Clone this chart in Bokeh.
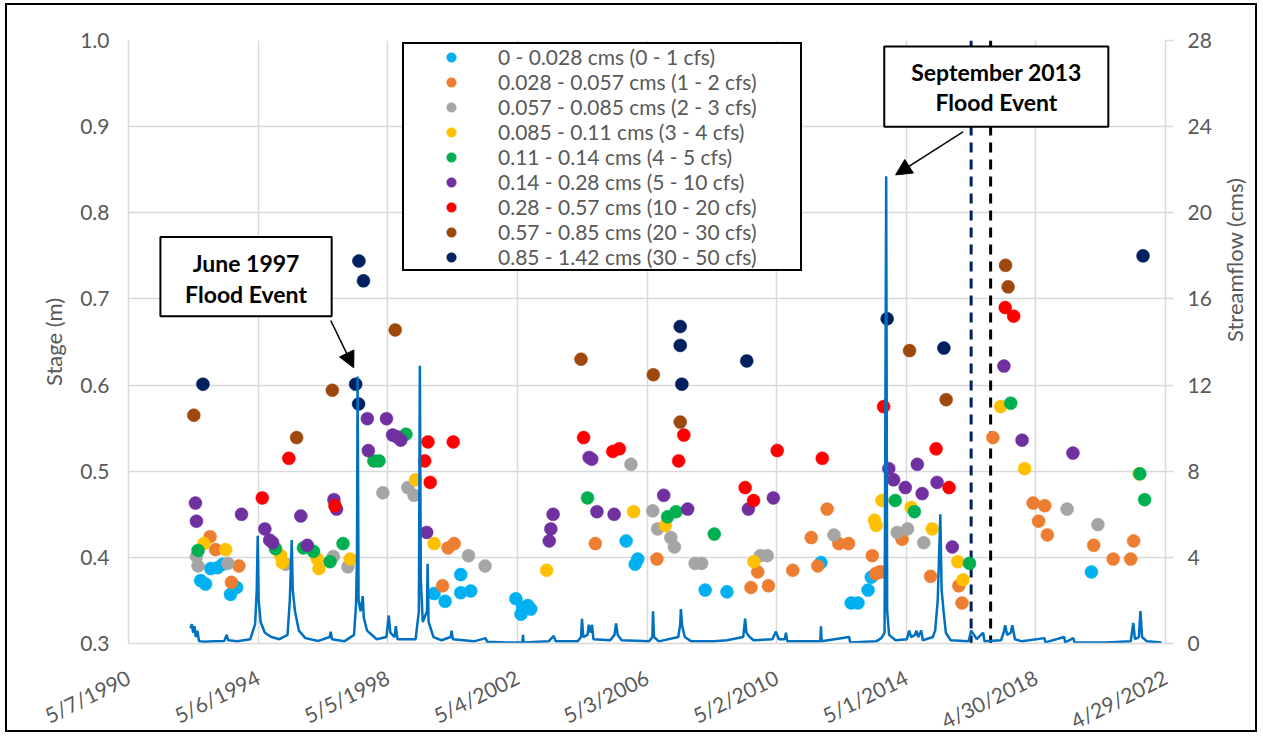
import numpy as np
import pandas as pd
from bokeh.plotting import figure
from bokeh.models import (Range1d, LinearAxis, FixedTicker, CustomJSTickFormatter, Legend, LegendItem,
                          Label, BoxAnnotation, Arrow, NormalHead, Span, PrintfTickFormatter)
from bokeh.embed import file_html
from bokeh.resources import INLINE

# ---------------- data ----------------
categories = ["0 - 0.028 cms (0 - 1 cfs)", "0.028 - 0.057 cms (1 - 2 cfs)", "0.057 - 0.085 cms (2 - 3 cfs)",
              "0.085 - 0.11 cms (3 - 4 cfs)", "0.11 - 0.14 cms (4 - 5 cfs)", "0.14 - 0.28 cms (5 - 10 cfs)",
              "0.28 - 0.57 cms (10 - 20 cfs)", "0.57 - 0.85 cms (20 - 30 cfs)", "0.85 - 1.42 cms (30 - 50 cfs)"]
colors = ["#00B0F0", "#ED7D31", "#A5A5A5", "#FFC000", "#00B050", "#7030A0", "#FF0000", "#9E480E", "#002060"]

# decimal year, stage (m)
cyan_x = [1992.57, 1992.72, 1992.88, 1993.09, 1993.25, 1993.49, 1993.68, 1999.77, 2000.11, 2000.59, 2000.59, 2000.90,
          2002.29, 2002.50, 2002.75, 2002.45, 2002.66, 2005.69, 2006.05, 2005.97, 2008.13, 2008.80, 2011.70, 2013.15,
          2013.25, 2012.63, 2012.84, 2020.04]
cyan_y = [0.373, 0.369, 0.387, 0.388, 0.392, 0.357, 0.365, 0.358, 0.349, 0.380, 0.359, 0.361, 0.352, 0.342, 0.340,
          0.334, 0.344, 0.419, 0.398, 0.392, 0.362, 0.360, 0.394, 0.362, 0.377, 0.347, 0.347, 0.383]
orange_x = [1992.86, 1993.03, 1993.52, 1993.75, 2000.03, 2000.20, 2000.39, 2004.74, 2006.64, 2009.54, 2009.75, 2010.08,
            2010.83, 2011.40, 2011.60, 2011.89, 2012.25, 2012.55, 2013.28, 2013.38, 2013.50, 2013.56, 2014.20, 2015.08,
            2015.95, 2016.05, 2017.00, 2018.24, 2018.60, 2018.41, 2018.68, 2020.11, 2020.71, 2021.25, 2021.34]
orange_y = [0.424, 0.409, 0.371, 0.390, 0.367, 0.411, 0.416, 0.416, 0.398, 0.365, 0.383, 0.367, 0.385, 0.423, 0.390,
            0.456, 0.416, 0.416, 0.402, 0.381, 0.383, 0.383, 0.421, 0.378, 0.367, 0.347, 0.539, 0.463, 0.460, 0.442,
            0.426, 0.414, 0.398, 0.398, 0.419]
grey_x = [1992.44, 1992.49, 1993.41, 1995.19, 1996.66, 1997.11, 1998.19, 1998.96, 1999.15, 2000.83, 2001.34, 2005.84,
          2006.51, 2006.66, 2007.07, 2007.18, 2007.82, 2008.02, 2009.83, 2010.04, 2012.10, 2014.05, 2014.37, 2014.87,
          2019.29, 2020.24]
grey_y = [0.401, 0.390, 0.393, 0.392, 0.401, 0.389, 0.475, 0.481, 0.472, 0.402, 0.390, 0.508, 0.454, 0.433, 0.423,
          0.412, 0.393, 0.393, 0.402, 0.402, 0.426, 0.429, 0.433, 0.417, 0.456, 0.438]
yellow_x = [1992.67, 1993.34, 1995.04, 1995.09, 1996.17, 1996.22, 1997.18, 1999.20, 1999.77, 2003.24, 2005.92, 2006.90,
            2009.63, 2013.35, 2013.40, 2013.58, 2014.48, 2015.13, 2015.92, 2016.08, 2017.24, 2017.98, 2021.51]
yellow_y = [0.416, 0.409, 0.402, 0.394, 0.398, 0.387, 0.398, 0.490, 0.416, 0.385, 0.453, 0.437, 0.395, 0.443, 0.437,
            0.466, 0.458, 0.433, 0.395, 0.374, 0.575, 0.503, 0.497]
green_x = [1992.49, 1994.88, 1995.74, 1996.05, 1996.56, 1996.96, 1997.91, 1998.07, 1998.90, 2004.50, 2006.97, 2007.23,
           2008.41, 2013.99, 2014.58, 2016.28, 2017.55, 2021.53, 2021.68]
green_y = [0.408, 0.410, 0.411, 0.407, 0.395, 0.416, 0.512, 0.512, 0.543, 0.469, 0.447, 0.453, 0.427, 0.466, 0.453,
           0.393, 0.579, 0.497, 0.467]
purple_x = [1992.41, 1992.44, 1993.83, 1994.55, 1994.70, 1994.79, 1995.66, 1995.86, 1996.68, 1996.76, 1997.71, 1998.30,
            1997.74, 1998.49, 1998.62, 1998.74, 1999.54, 2003.44, 2003.37, 2003.32, 2004.55, 2004.63, 2004.79, 2005.32,
            2006.85, 2007.59, 2009.46, 2010.23, 2013.79, 2013.94, 2014.30, 2014.67, 2014.82, 2015.28, 2015.75, 2017.34,
            2017.90, 2019.47]
purple_y = [0.463, 0.442, 0.450, 0.433, 0.420, 0.417, 0.448, 0.414, 0.467, 0.456, 0.561, 0.561, 0.524, 0.542, 0.540,
            0.536, 0.429, 0.450, 0.433, 0.419, 0.516, 0.514, 0.453, 0.450, 0.472, 0.456, 0.456, 0.469, 0.503, 0.490,
            0.481, 0.508, 0.474, 0.487, 0.412, 0.622, 0.536, 0.521]
red_x = [1994.47, 1995.29, 1996.71, 1999.58, 2000.36, 1999.48, 1999.65, 2004.38, 2005.28, 2005.48, 2007.47, 2007.31,
         2009.36, 2009.62, 2010.35, 2011.74, 2013.63, 2015.25, 2015.65, 2017.38, 2017.64]
red_y = [0.469, 0.515, 0.460, 0.534, 0.534, 0.512, 0.487, 0.539, 0.523, 0.526, 0.542, 0.512, 0.481, 0.466, 0.524,
         0.515, 0.575, 0.526, 0.481, 0.690, 0.680]
brown_x = [1992.36, 1995.53, 1996.63, 1998.57, 2004.30, 2006.53, 2007.36, 2014.43, 2015.56, 2017.39, 2017.47]
brown_y = [0.565, 0.539, 0.594, 0.664, 0.630, 0.612, 0.557, 0.640, 0.583, 0.739, 0.714]
navy_x = [1992.64, 1997.45, 1997.59, 1997.35, 1997.44, 2007.36, 2007.36, 2007.41, 2009.41, 2013.74, 2015.49, 2021.63]
navy_y = [0.601, 0.744, 0.721, 0.601, 0.578, 0.668, 0.646, 0.601, 0.628, 0.677, 0.643, 0.750]

series_x = [cyan_x, orange_x, grey_x, yellow_x, green_x, purple_x, red_x, brown_x, navy_x]
series_y = [cyan_y, orange_y, grey_y, yellow_y, green_y, purple_y, red_y, brown_y, navy_y]

# streamflow hydrograph (decimal year, cms)
flow_t = [1992.26, 1992.30, 1992.34, 1992.38, 1992.42, 1992.47, 1992.52, 1992.70, 1993.00, 1993.30, 1993.37, 1993.42,
          1993.70, 1994.10, 1994.25, 1994.30, 1994.33, 1994.36, 1994.42, 1994.55, 1994.75, 1995.00, 1995.25, 1995.32,
          1995.38, 1995.41, 1995.48, 1995.60, 1995.80, 1996.20, 1996.55, 1996.58, 1996.62, 1997.00, 1997.30, 1997.36,
          1997.39, 1997.41, 1997.44, 1997.50, 1997.57, 1997.60, 1997.70, 1998.00, 1998.30, 1998.37, 1998.42, 1998.55,
          1998.59, 1998.64, 1999.20, 1999.30, 1999.33, 1999.36, 1999.42, 1999.55, 1999.57, 1999.60, 1999.75, 2000.00,
          2000.28, 2000.31, 2000.35, 2001.00, 2001.36, 2001.40, 2002.00, 2002.49, 2002.51, 2002.53, 2003.30, 2003.46,
          2003.52, 2004.20, 2004.30, 2004.33, 2004.37, 2004.50, 2004.54, 2004.60, 2004.64, 2004.68, 2005.20, 2005.33,
          2005.38, 2005.43, 2005.55, 2006.40, 2006.50, 2006.52, 2006.55, 2006.70, 2007.30, 2007.36, 2007.38, 2007.42,
          2007.50, 2007.70, 2008.40, 2008.80, 2009.30, 2009.36, 2009.40, 2009.50, 2009.62, 2010.20, 2010.31, 2010.40,
          2010.58, 2010.62, 2010.66, 2011.20, 2011.68, 2011.70, 2011.72, 2012.57, 2012.60, 2013.40, 2013.56, 2013.66,
          2013.71, 2013.74, 2013.80, 2014.00, 2014.35, 2014.42, 2014.48, 2014.60, 2014.64, 2014.70, 2014.79, 2014.84,
          2015.15, 2015.22, 2015.30, 2015.38, 2015.42, 2015.48, 2015.55, 2015.70, 2016.25, 2016.30, 2016.33, 2016.42,
          2016.50, 2016.70, 2016.74, 2017.25, 2017.33, 2017.38, 2017.44, 2017.55, 2017.60, 2017.68, 2017.90, 2018.59,
          2018.62, 2019.20, 2019.23, 2019.48, 2019.52, 2020.50, 2021.25, 2021.33, 2021.38, 2021.50, 2021.55, 2021.60,
          2021.75, 2022.20]
flow_q = [0.7, 0.9, 0.5, 0.8, 0.3, 0.6, 0.1, 0.08, 0.1, 0.12, 0.4, 0.15,
          0.1, 0.2, 0.9, 2.5, 5.0, 2.0, 1.0, 0.5, 0.3, 0.2, 0.4, 2.0,
          4.8, 2.5, 1.5, 0.6, 0.25, 0.12, 0.3, 0.55, 0.2, 0.1, 0.4, 1.8,
          4.0, 12.4, 2.0, 1.5, 2.2, 1.2, 0.6, 0.2, 0.3, 1.3, 0.5, 0.3,
          0.8, 0.2, 0.2, 1.5, 12.9, 3.0, 1.0, 1.5, 3.7, 1.0, 0.3, 0.15,
          0.3, 0.6, 0.2, 0.1, 0.25, 0.08, 0.05, 0.05, 0.4, 0.05, 0.1, 0.35,
          0.1, 0.1, 0.3, 1.15, 0.3, 0.4, 0.87, 0.5, 0.87, 0.2, 0.15, 0.4,
          0.93, 0.4, 0.15, 0.1, 0.3, 1.5, 0.3, 0.1, 0.3, 0.9, 1.6, 0.8,
          0.3, 0.1, 0.1, 0.15, 0.3, 1.15, 0.5, 0.3, 0.15, 0.2, 0.55, 0.2,
          0.2, 0.5, 0.1, 0.1, 0.1, 0.8, 0.1, 0.3, 0.05, 0.1, 0.25, 0.5,
          21.7, 1.5, 0.4, 0.15, 0.2, 0.6, 0.3, 0.4, 0.6, 0.3, 0.6, 0.15,
          0.3, 0.6, 2.0, 6.0, 2.5, 1.5, 0.5, 0.15, 0.1, 0.4, 0.6, 0.4,
          0.2, 0.5, 0.1, 0.15, 0.5, 0.85, 0.4, 0.5, 0.85, 0.2, 0.1, 0.25,
          0.05, 0.3, 0.05, 0.25, 0.05, 0.05, 0.1, 0.95, 0.2, 0.3, 1.5, 0.3,
          0.1, 0.05]

event_lines = [2016.33, 2016.93]
event_colors = ["#002060", "#000000"]

tick_dates = ["1990-05-07", "1994-05-06", "1998-05-05", "2002-05-04", "2006-05-03",
              "2010-05-02", "2014-05-01", "2018-04-30", "2022-04-29"]
stage_ticks = [0.3, 0.4, 0.5, 0.6, 0.7, 0.8, 0.9, 1.0]
flow_ticks = [0, 4, 8, 12, 16, 20, 24, 28]


def dec_to_ms(years):
    out = []
    for y in years:
        Y = int(np.floor(y))
        f = y - Y
        s = pd.Timestamp(Y, 1, 1)
        e = pd.Timestamp(Y + 1, 1, 1)
        out.append((s + (e - s) * f).value / 1e6)
    return out


def date_ms(s):
    return pd.Timestamp(s).value / 1e6


tick_ms = [date_ms(d) for d in tick_dates]

FONT = "Lato"
GREY = "#595959"
GRID = "#d9d9d9"

p = figure(frame_width=1037, frame_height=603, output_backend="svg", toolbar_location=None,
           x_axis_type="datetime",
           x_range=Range1d(tick_ms[0], tick_ms[-1]), y_range=Range1d(0.3, 1.0),
           min_border_left=121, min_border_right=90, min_border_top=35, min_border_bottom=88,
           background_fill_color="white", border_fill_color="white", outline_line_color=None)
p.margin = (3, 0, 0, 5)
p.styles = {"border": "2px solid black", "box-sizing": "border-box",
            "height": "729px", "width": "1252px", "overflow": "hidden"}
p.extra_y_ranges = {"flow": Range1d(0, 28)}

# grid
p.xgrid.ticker = FixedTicker(ticks=tick_ms)
p.ygrid.ticker = FixedTicker(ticks=stage_ticks)
p.grid.grid_line_color = GRID
p.grid.grid_line_width = 1.5

# x axis
xa = p.xaxis[0]
xa.ticker = FixedTicker(ticks=tick_ms)
xa.formatter = CustomJSTickFormatter(code="""
const d = new Date(tick);
return (d.getUTCMonth()+1) + "/" + d.getUTCDate() + "/" + d.getUTCFullYear();
""")
xa.major_label_orientation = 0.46
xa.major_label_text_font = FONT
xa.major_label_text_font_size = "21px"
xa.major_label_text_color = GREY
xa.major_label_standoff = 26
xa.axis_line_color = GRID
xa.axis_line_width = 1.5
xa.major_tick_line_color = None
xa.minor_tick_line_color = None

# left axis
ya = p.yaxis[0]
ya.ticker = FixedTicker(ticks=stage_ticks)
ya.formatter = PrintfTickFormatter(format="%.1f")
ya.major_label_text_font = FONT
ya.major_label_text_font_size = "21px"
ya.major_label_text_color = GREY
ya.major_label_standoff = 13
ya.axis_line_color = GRID
ya.axis_line_width = 1.5
ya.major_tick_line_color = None
ya.minor_tick_line_color = None
ya.axis_label = "Stage (m)"
ya.axis_label_text_font = FONT
ya.axis_label_text_font_size = "22px"
ya.axis_label_text_font_style = "normal"
ya.axis_label_text_color = GREY
ya.axis_label_standoff = 10

# right axis
ra = LinearAxis(y_range_name="flow", ticker=FixedTicker(ticks=flow_ticks), axis_label="Streamflow (cms)")
ra.major_label_text_font = FONT
ra.major_label_text_font_size = "21px"
ra.major_label_text_color = GREY
ra.major_label_standoff = 14
ra.axis_line_color = GRID
ra.axis_line_width = 1.5
ra.major_tick_line_color = GRID
ra.major_tick_line_width = 1.5
ra.major_tick_out = 8
ra.major_tick_in = 0
ra.minor_tick_line_color = None
ra.axis_label_text_font = FONT
ra.axis_label_text_font_size = "22px"
ra.axis_label_text_font_style = "normal"
ra.axis_label_text_color = GREY
ra.axis_label_standoff = 20
try:
    ra.axis_label_orientation = np.pi / 2
except Exception:
    pass
p.add_layout(ra, "right")

# event dashed lines
for yr, c in zip(event_lines, event_colors):
    p.add_layout(Span(location=dec_to_ms([yr])[0], dimension="height", line_color=c,
                      line_width=3, line_dash="10 7", level="underlay"))

# scatter series
items = []
for cat, col, xs, ys in zip(categories, colors, series_x, series_y):
    r = p.scatter(dec_to_ms(xs), ys, size=13, fill_color=col, line_color=col, line_width=0.5)
    items.append(LegendItem(label=cat, renderers=[r]))

# streamflow line
p.line(dec_to_ms(flow_t), flow_q, y_range_name="flow", line_color="#0070C0", line_width=2.5)

legend = Legend(items=items, location=(274, 372), orientation="vertical",
                glyph_width=94, glyph_height=24, spacing=0, padding=0, margin=0,
                label_standoff=0, label_width=302, label_height=24,
                label_text_font=FONT, label_text_font_size="21px", label_text_color=GREY,
                label_text_line_height=1.0,
                border_line_color="black", border_line_width=2, border_line_alpha=1.0,
                background_fill_color="white", background_fill_alpha=1.0)
p.add_layout(legend)


# annotation boxes
def box(x0, x1, ytop, ybot):
    l, r = dec_to_ms([x0, x1])
    p.add_layout(BoxAnnotation(left=l, right=r, top=ytop, bottom=ybot, fill_color="white", fill_alpha=1.0,
                               line_color="black", line_alpha=1.0, line_width=2))


def txt(x, y, t):
    p.add_layout(Label(x=dec_to_ms([x])[0], y=y, text=t, text_align="center", text_baseline="middle",
                       text_font=FONT, text_font_style="bold", text_font_size="23px",
                       text_color="black"))


def arrow(x0, y0, x1, y1):
    a, b = dec_to_ms([x0, x1])
    p.add_layout(Arrow(end=NormalHead(size=16, fill_color="black", line_color="black"),
                       x_start=a, y_start=y0, x_end=b, y_end=y1, line_color="black", line_width=1.5))


box(1991.33, 1996.61, 0.772, 0.680)
txt(1993.97, 0.742, "June 1997")
txt(1993.97, 0.706, "Flood Event")
arrow(1996.58, 0.675, 1997.29, 0.620)

box(2013.65, 2020.56, 0.993, 0.900)
txt(2017.11, 0.963, "September 2013")
txt(2017.11, 0.929, "Flood Event")
arrow(2016.08, 0.894, 2014.00, 0.844)

open("out.html", "w").write(file_html(p, INLINE))
